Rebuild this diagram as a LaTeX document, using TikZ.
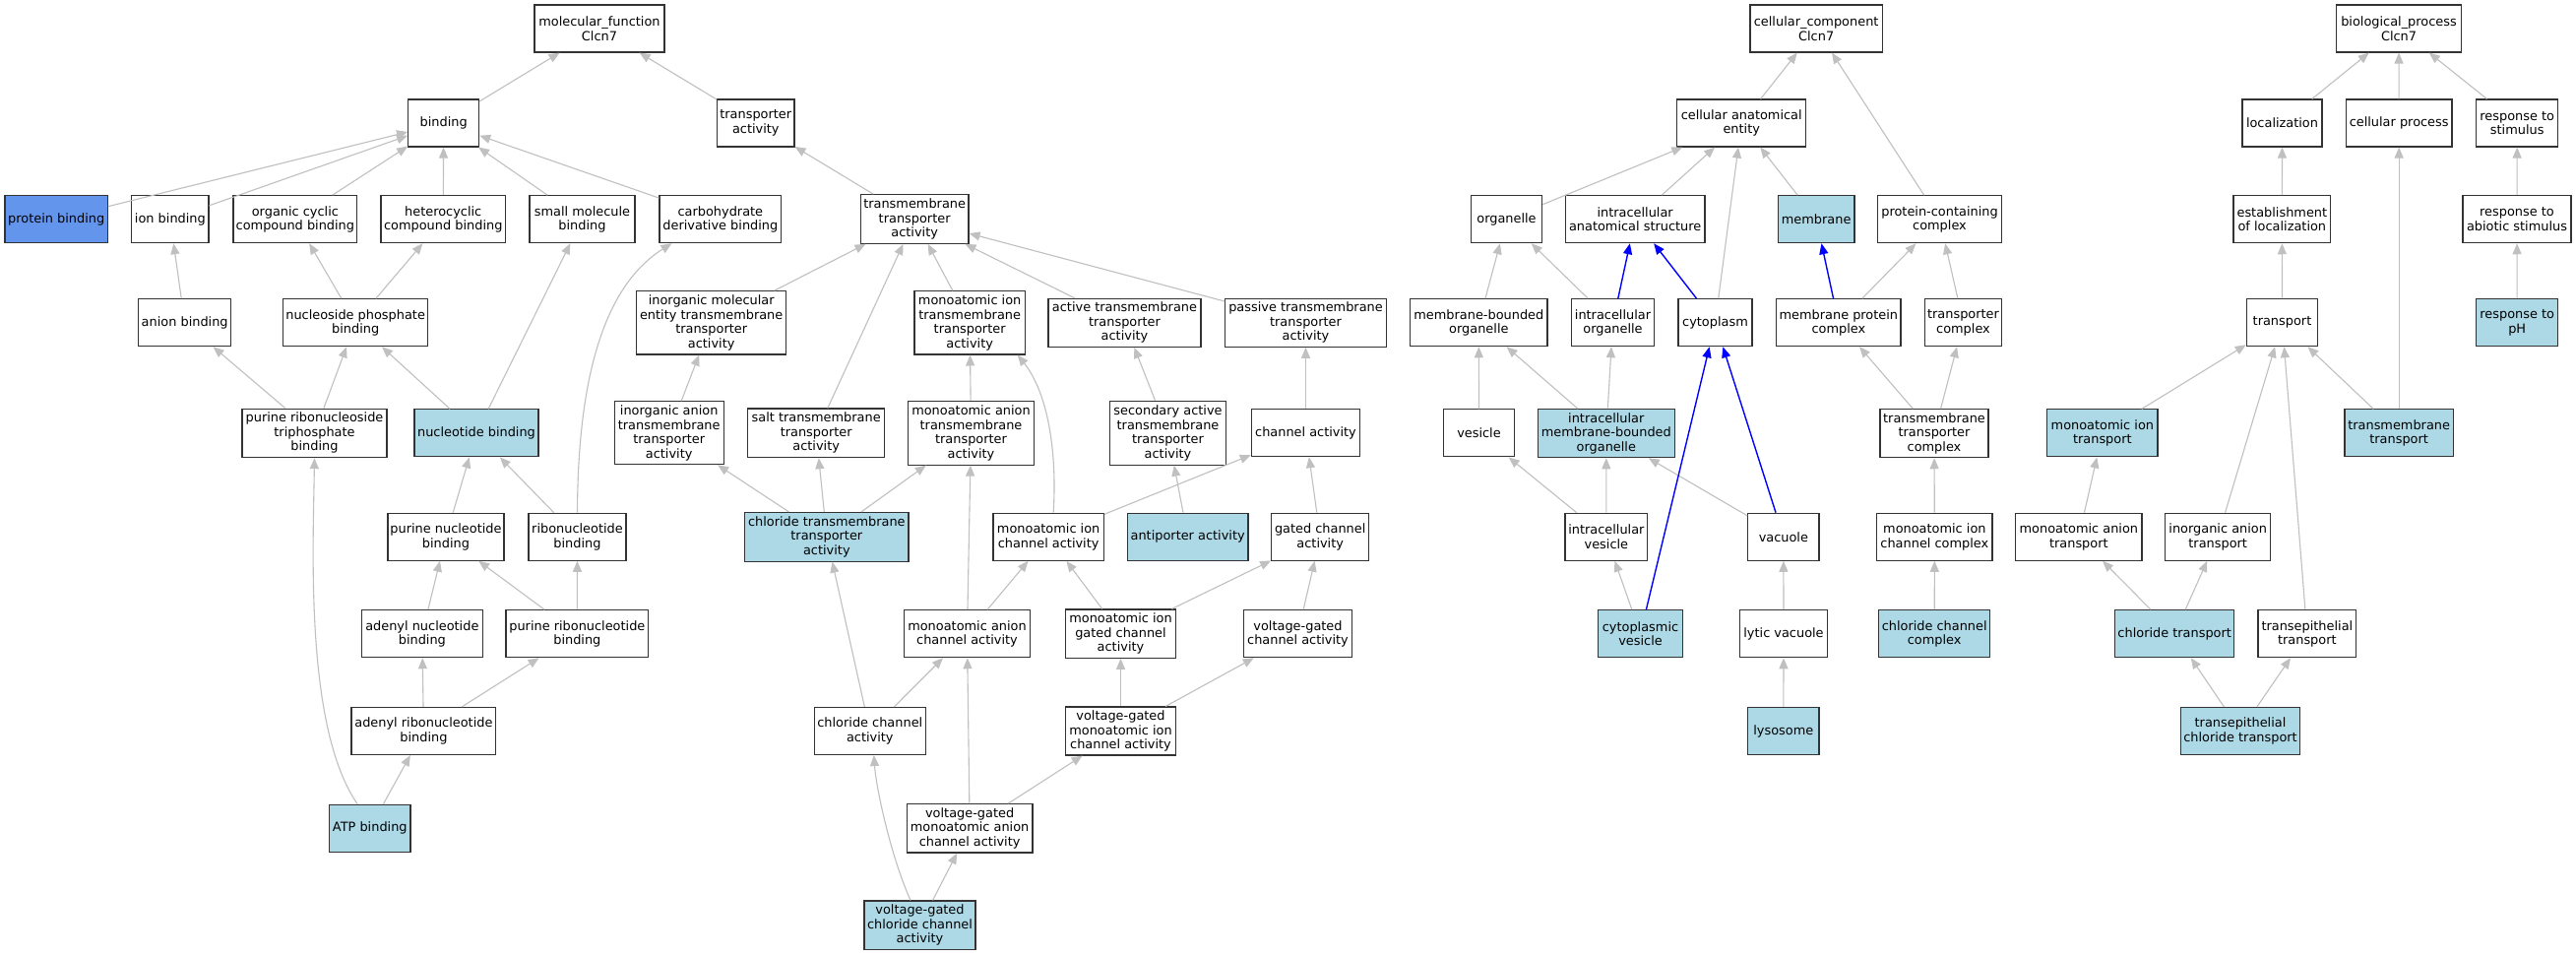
\documentclass[tikz,border=0pt]{standalone}
\usepackage{fontspec}
\setmainfont{DejaVu Sans}
\usetikzlibrary{arrows.meta}
\definecolor{lb}{HTML}{ADD8E6}
\definecolor{cfb}{HTML}{6495ED}
\definecolor{eg}{HTML}{C0C0C0}
\tikzset{
  gbox/.style={draw=black!80, line width=1.1pt, fill=white, inner sep=0pt, align=center,
    minimum height=48pt, font=\fontsize{12.9}{14.5}\selectfont},
  hl/.style={gbox, fill=lb},
  pbx/.style={gbox, fill=cfb},
  bw/.style={minimum width=#1pt},
  bh/.style={minimum height=#1pt},
  gedge/.style={draw=eg, line width=1.1pt, -{Triangle[length=11pt,width=9pt]}},
  bedge/.style={draw=blue, line width=1.4pt, -{Triangle[length=11pt,width=9pt]}},
}
\begin{document}
\begin{tikzpicture}[x=1pt,y=-1pt]
\fill[white] (0,0) rectangle (2617,971);
\useasboundingbox (0,0) rectangle (2617,971);
% ---------------- molecular function ----------------
\node[gbox,bw=132] (mf) at (609,29) {molecular\_function\\Clcn7};
\node[gbox,bw=72] (bind) at (450.7,125) {binding};
\node[gbox,bw=78.3] (ta) at (767.8,125) {transporter\\activity};
\node[pbx,bw=104.4] (pb) at (57.2,222.7) {protein binding};
\node[gbox,bw=78.2] (ib) at (172.9,222.7) {ion binding};
\node[gbox,bw=125.8] (occb) at (299.9,222.7) {organic cyclic\\compound binding};
\node[gbox,bw=126.5] (hcb) at (450.25,222.7) {heterocyclic\\compound binding};
\node[gbox,bw=107] (smb) at (591.5,222.7) {small molecule\\binding};
\node[gbox,bw=123.7] (cdb) at (731.85,222.7) {carbohydrate\\derivative binding};
\node[gbox,bw=109.7,bh=49.6] (tta) at (929.15,222.5) {transmembrane\\transporter\\activity};
\node[gbox,bw=94.2] (ab) at (187.7,327.7) {anion binding};
\node[gbox,bw=147.3] (npb) at (361.15,327.7) {nucleoside phosphate\\binding};
\node[gbox,bw=152,bh=64.3] (imeta) at (722.7,327.8) {inorganic molecular\\entity transmembrane\\transporter\\activity};
\node[gbox,bw=112.3,bh=64.3] (mita) at (985.15,327.8) {monoatomic ion\\transmembrane\\transporter\\activity};
\node[gbox,bw=155,bh=49] (act) at (1142.5,327.8) {active transmembrane\\transporter\\activity};
\node[gbox,bw=163.6,bh=49] (pas) at (1326.5,327.8) {passive transmembrane\\transporter\\activity};
\node[gbox,bw=147,bh=49.5] (prtb) at (319.5,439.9) {purine ribonucleoside\\triphosphate\\binding};
\node[hl,bw=126] (nb) at (484,439.9) {nucleotide binding};
\node[gbox,bw=110.7,bh=64] (iata) at (679.7,439.7) {inorganic anion\\transmembrane\\transporter\\activity};
\node[gbox,bw=139,bh=49.7] (salt) at (829.2,439.85) {salt transmembrane\\transporter\\activity};
\node[gbox,bw=128.4,bh=64.7] (mata) at (986.5,439.7) {monoatomic anion\\transmembrane\\transporter\\activity};
\node[gbox,bw=117.6,bh=64.7] (sec) at (1186.5,439.7) {secondary active\\transmembrane\\transporter\\activity};
\node[gbox,bw=110.4] (chan) at (1326.5,439.7) {channel activity};
\node[gbox,bw=118] (pnb) at (453,545.2) {purine nucleotide\\binding};
\node[gbox,bw=99] (rb) at (586.5,545.2) {ribonucleotide\\binding};
\node[hl,bw=166.3,bh=49.7] (ctm) at (839.85,545.2) {chloride transmembrane\\transporter\\activity};
\node[gbox,bw=112.3] (mica) at (1065.15,545.2) {monoatomic ion\\channel activity};
\node[hl,bw=122.7] (anti) at (1206.65,545.2) {antiporter activity};
\node[gbox,bw=99] (gca) at (1341.2,545.2) {gated channel\\activity};
\node[gbox,bw=122.9] (anb) at (428.85,643.7) {adenyl nucleotide\\binding};
\node[gbox,bw=144.7] (prb) at (586.35,643.7) {purine ribonucleotide\\binding};
\node[gbox,bw=128.4] (maca) at (982.5,643.7) {monoatomic anion\\channel activity};
\node[gbox,bw=112.4,bh=49.4] (migca) at (1138.5,643.7) {monoatomic ion\\gated channel\\activity};
\node[gbox,bw=110.4] (vgca) at (1318.5,643.7) {voltage-gated\\channel activity};
\node[gbox,bw=146.8] (arb) at (430.4,742.5) {adenyl ribonucleotide\\binding};
\node[gbox,bw=113] (cca) at (883.8,742.5) {chloride channel\\activity};
\node[gbox,bw=112.4,bh=49] (vgmica) at (1138.5,742.5) {voltage-gated\\monoatomic ion\\channel activity};
\node[hl,bw=82.4] (atp) at (375.8,841.3) {ATP binding};
\node[gbox,bw=127.7,bh=49.3] (vgmaca) at (985.15,841.3) {voltage-gated\\monoatomic anion\\channel activity};
\node[hl,bw=113,bh=49.7] (vgcca) at (934.5,939.8) {voltage-gated\\chloride channel\\activity};
% ---------------- cellular component ----------------
\node[gbox,bw=134.3] (cc) at (1845.15,29) {cellular\_component\\Clcn7};
\node[gbox,bw=131] (cae) at (1769.2,125) {cellular anatomical\\entity};
\node[gbox,bw=72.4] (org) at (1530.5,222.7) {organelle};
\node[gbox,bw=141.7] (ias) at (1661.15,222.7) {intracellular\\anatomical structure};
\node[hl,bw=77.7] (mem) at (1845.15,222.7) {membrane};
\node[gbox,bw=125.6] (pcc) at (1970.5,222.7) {protein-containing\\complex};
\node[gbox,bw=139.3] (mbo) at (1502.35,327.7) {membrane-bounded\\organelle};
\node[gbox,bw=83.6] (io) at (1638.5,327.7) {intracellular\\organelle};
\node[gbox,bw=75] (cyt) at (1742.5,327.7) {cytoplasm};
\node[gbox,bw=126.3] (mpc) at (1867.85,327.7) {membrane protein\\complex};
\node[gbox,bw=78.4] (tc) at (1994.5,327.7) {transporter\\complex};
\node[gbox,bw=71.6] (ves) at (1502.5,439.9) {vesicle};
\node[hl,bw=139,bh=49] (imbo) at (1631.8,440.2) {intracellular\\membrane-bounded\\organelle};
\node[gbox,bw=110,bh=49] (ttc) at (1965,440.2) {transmembrane\\transporter\\complex};
\node[gbox,bw=83.7] (iv) at (1631.85,545.2) {intracellular\\vesicle};
\node[gbox,bw=72.3] (vac) at (1811.85,545.2) {vacuole};
\node[gbox,bw=117.3] (micc) at (1965.35,545.2) {monoatomic ion\\channel complex};
\node[hl,bw=85.6] (cv) at (1666.5,643.7) {cytoplasmic\\vesicle};
\node[gbox,bw=88.6] (lv) at (1812,643.7) {lytic vacuole};
\node[hl,bw=113] (ccc) at (1965.2,643.7) {chloride channel\\complex};
\node[hl,bw=72.3] (lys) at (1811.85,742.5) {lysosome};
% ---------------- biological process ----------------
\node[gbox,bw=126.6] (bp) at (2437,29) {biological\_process\\Clcn7};
\node[gbox,bw=81] (loc) at (2318.5,125) {localization};
\node[gbox,bw=107.7] (cp) at (2437.15,125) {cellular process};
\node[gbox,bw=83] (rs) at (2557.2,125) {response to\\stimulus};
\node[gbox,bw=98.7] (el) at (2318.35,222.7) {establishment\\of localization};
\node[gbox,bw=110] (ras) at (2557,222.7) {response to\\abiotic stimulus};
\node[gbox,bw=72.4] (tr) at (2318.5,327.7) {transport};
\node[hl,bw=83] (rph) at (2557.2,327.7) {response to\\pH};
\node[hl,bw=112.3] (mit) at (2135.85,439.9) {monoatomic ion\\transport};
\node[hl,bw=110.3] (tmt) at (2437.15,439.9) {transmembrane\\transport};
\node[gbox,bw=128.3] (mat) at (2111.85,545.2) {monoatomic anion\\transport};
\node[gbox,bw=107] (iat) at (2253.2,545.2) {inorganic anion\\transport};
\node[hl,bw=121] (ct) at (2209.2,643.7) {chloride transport};
\node[gbox,bw=99.7] (tt) at (2343.85,643.7) {transepithelial\\transport};
\node[hl,bw=120.6] (tct) at (2276,742.5) {transepithelial\\chloride transport};
% ---------------- edges: molecular function ----------------
\foreach \a/\b in {bind/mf, ta/mf, pb/bind, ib/bind, occb/bind, hcb/bind, smb/bind, cdb/bind,
  tta/ta, ab/ib, npb/occb, npb/hcb, nb/smb, nb/npb, prtb/ab, prtb/npb, atp/arb,
  pnb/nb, rb/nb, anb/pnb, prb/pnb, prb/rb, arb/anb, arb/prb,
  imeta/tta, salt/tta, mita/tta, act/tta, pas/tta, iata/imeta, mata/mita,
  ctm/iata, ctm/salt, ctm/mata, sec/act, anti/sec, chan/pas, mica/chan, gca/chan,
  maca/mata, maca/mica, migca/mica, migca/gca, vgca/gca, cca/ctm, cca/maca,
  vgmica/migca, vgmica/vgca, vgmaca/maca, vgmaca/vgmica, vgcca/vgmaca}
  {\draw[gedge] (\a) -- (\b);}
\draw[gedge] ([xshift=-12.6pt]atp.north) .. controls (310,740) and (318,560) .. (prtb.south);
\draw[gedge] (rb.north) .. controls (587,430) and (598,300) .. ([xshift=13pt]cdb.south west);
\draw[gedge] ([xshift=5pt]mica.north) .. controls (1074,460) and (1065,400) .. ([xshift=-8pt]mita.south east);
\draw[gedge] ([xshift=-9.5pt]vgcca.north) .. controls (905,870) and (890,800) .. ([xshift=4pt]cca.south);
% ---------------- edges: cellular component ----------------
\foreach \a/\b in {cae/cc, pcc/cc, org/cae, ias/cae, cyt/cae, mem/cae, mbo/org, io/org,
  mpc/pcc, tc/pcc, ves/mbo, imbo/mbo, imbo/io, ttc/mpc, ttc/tc, iv/ves, iv/imbo,
  vac/imbo, micc/ttc, cv/iv, lv/vac, ccc/micc, lys/lv}
  {\draw[gedge] (\a) -- (\b);}
\foreach \a/\b in {io/ias, cyt/ias, mpc/mem, vac/cyt, cv/cyt}
  {\draw[bedge] (\a) -- (\b);}
% ---------------- edges: biological process ----------------
\foreach \a/\b in {loc/bp, cp/bp, rs/bp, el/loc, tr/el, ras/rs, rph/ras, mit/tr, tmt/tr,
  tmt/cp, mat/mit, iat/tr, tt/tr, ct/mat, ct/iat, tct/ct, tct/tt}
  {\draw[gedge] (\a) -- (\b);}
\end{tikzpicture}
\end{document}
